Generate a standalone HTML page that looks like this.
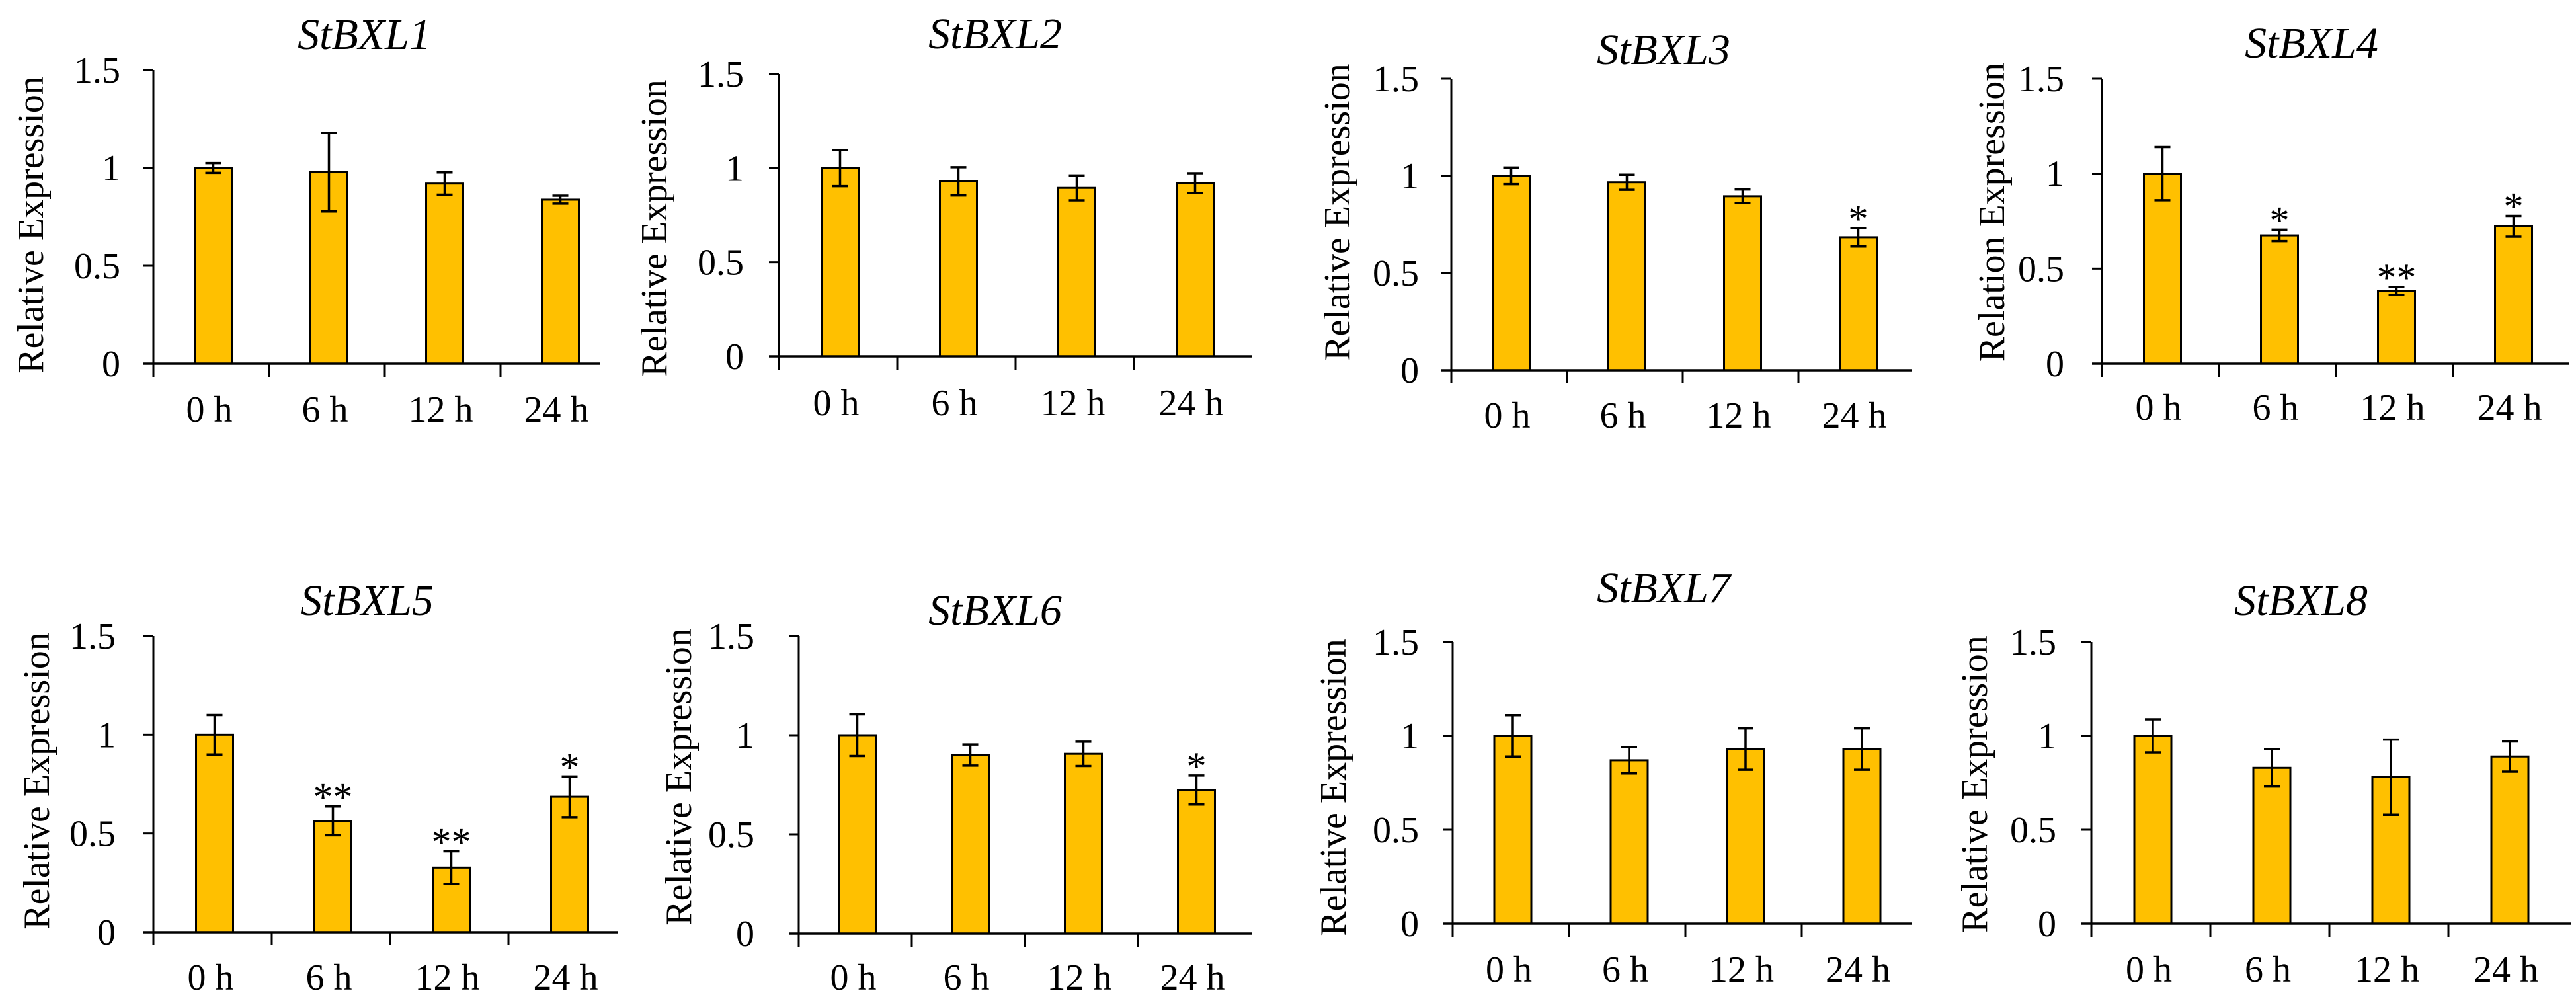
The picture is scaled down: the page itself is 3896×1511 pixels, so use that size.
<!DOCTYPE html>
<html><head><meta charset="utf-8"><style>
html,body{margin:0;padding:0;background:#fff;}
svg{display:block;font-family:"Liberation Serif",serif;}
</style></head><body>
<svg id="fig" width="3896" height="1511" viewBox="0 0 3896 1511" xmlns="http://www.w3.org/2000/svg"></svg>
<script>
const categories = ["0 h","6 h","12 h","24 h"];
const titles = ["StBXL1","StBXL2","StBXL3","StBXL4","StBXL5","StBXL6","StBXL7","StBXL8"];
const yLabels = ["Relative Expression","Relative Expression","Relative Expression","Relation Expression","Relative Expression","Relative Expression","Relative Expression","Relative Expression"];
const yTicks = [0,0.5,1,1.5];
const yTickLabels = ["0","0.5","1","1.5"];
const yMax = 1.5;
const values = [
  [1.0,0.978,0.92,0.838],
  [1.0,0.93,0.895,0.92],
  [1.0,0.967,0.895,0.684],
  [1.0,0.675,0.383,0.723],
  [1.0,0.564,0.327,0.686],
  [1.0,0.90,0.906,0.724],
  [1.0,0.87,0.93,0.93],
  [1.0,0.83,0.78,0.89]
];
const errors = [
  [0.025,0.2,0.057,0.02],
  [0.096,0.075,0.066,0.053],
  [0.043,0.039,0.035,0.047],
  [0.14,0.03,0.02,0.055],
  [0.1,0.073,0.083,0.103],
  [0.105,0.053,0.061,0.073],
  [0.11,0.07,0.11,0.11],
  [0.088,0.1,0.2,0.08]
];
const stars = [
  ["","","",""],
  ["","","",""],
  ["","","","*"],
  ["","*","**","*"],
  ["","**","**","*"],
  ["","","","*"],
  ["","","",""],
  ["","","",""]
];
// layout per panel (pixel geometry, not data)
const layout = [
  {ax:232,y0:550,yt:106,cat:175,xend:907,tcx:551,tby:74,ylx:45,yly:340,tr:182,cb:638},
  {ax:1178,y0:539,yt:112,cat:179,xend:1894,tcx:1505,tby:73,ylx:988,yly:345,tr:1125,cb:628},
  {ax:2195,y0:560,yt:119,cat:175,xend:2891,tcx:2516,tby:97,ylx:2021,yly:321,tr:2146,cb:647},
  {ax:3179,y0:550,yt:119,cat:177,xend:3885,tcx:3496,tby:87,ylx:3011,yly:321,tr:3122,cb:635},
  {ax:232,y0:1410,yt:962,cat:179,xend:935,tcx:555,tby:930,ylx:54,yly:1181,tr:175,cb:1497},
  {ax:1208,y0:1412,yt:962,cat:171,xend:1893,tcx:1505,tby:945,ylx:1025,yly:1175,tr:1141,cb:1497},
  {ax:2197,y0:1397,yt:971,cat:176,xend:2892,tcx:2516,tby:911,ylx:2015,yly:1191,tr:2146,cb:1485},
  {ax:3163,y0:1397,yt:971,cat:180,xend:3888,tcx:3480,tby:930,ylx:2985,yly:1186,tr:3110,cb:1485}
];
const NS="http://www.w3.org/2000/svg";
const svg=document.getElementById('fig');
function mk(tag,attrs,parent){const e=document.createElementNS(NS,tag);for(const k in attrs)e.setAttribute(k,attrs[k]);(parent||svg).appendChild(e);return e;}
const BW=56, FILL="#FFC000";
layout.forEach((L,p)=>{
  const g=mk('g',{});
  
  
  const yS=v=>L.y0-(v/yMax)*(L.y0-L.yt);
  const xC=i=>L.ax+L.cat*(i+0.5)+3;
  // title
  const t=mk('text',{x:L.tcx,y:L.tby,'text-anchor':'middle','font-size':66,'font-style':'italic'},g);
  t.textContent=titles[p];
  
  
  // y label
  const yl=mk('text',{x:0,y:0,'text-anchor':'middle','font-size':56,transform:`translate(${L.ylx+20},${L.yly}) rotate(-90)`},g);
  yl.textContent=yLabels[p];
  
  
  // bars
  values[p].forEach((v,i)=>{
    const cx=xC(i), top=yS(v);
    const r=mk('rect',{x:cx-BW/2,y:top,width:BW,height:L.y0-top,fill:FILL,stroke:'#000','stroke-width':3},g);
    
    
    const e=errors[p][i], yh=yS(v+e), yl2=yS(v-e);
    const eb=mk('path',{d:`M${cx},${yh}V${yl2}M${cx-12},${yh}H${cx+12}M${cx-12},${yl2}H${cx+12}`,stroke:'#000','stroke-width':3.5,fill:'none'},g);
    
    
    if(stars[p][i]){
      const s=mk('text',{x:cx,y:yh+6,'text-anchor':'middle','font-size':60},g);
      s.textContent=stars[p][i];
      
      
    }
    const cl=mk('text',{x:cx-6,y:L.cb,'text-anchor':'middle','font-size':56},g);
    cl.textContent=categories[i];
    
    
  });
  // axes
  const ya=mk('path',{d:`M${L.ax},${L.yt}V${L.y0+20}`,stroke:'#000','stroke-width':3,fill:'none'},g);
  
  
  const xa=mk('path',{d:`M${L.ax-15},${L.y0}H${L.xend}`,stroke:'#000','stroke-width':3.5,fill:'none'},g);
  
  
  for(let i=1;i<4;i++){
    const tx=L.ax+L.cat*i;
    const tk=mk('path',{d:`M${tx},${L.y0}V${L.y0+20}`,stroke:'#000','stroke-width':3},g);
    
    
  }
  yTicks.forEach((v,i)=>{
    const y=yS(v);
    const tk=mk('path',{d:`M${L.ax-15},${y}H${L.ax}`,stroke:'#000','stroke-width':3},g);
    
    
    const tl=mk('text',{x:L.tr,y:y+19,'text-anchor':'end','font-size':56},g);
    tl.textContent=yTickLabels[i];
    
    
  });
});
</script>
</body></html>
